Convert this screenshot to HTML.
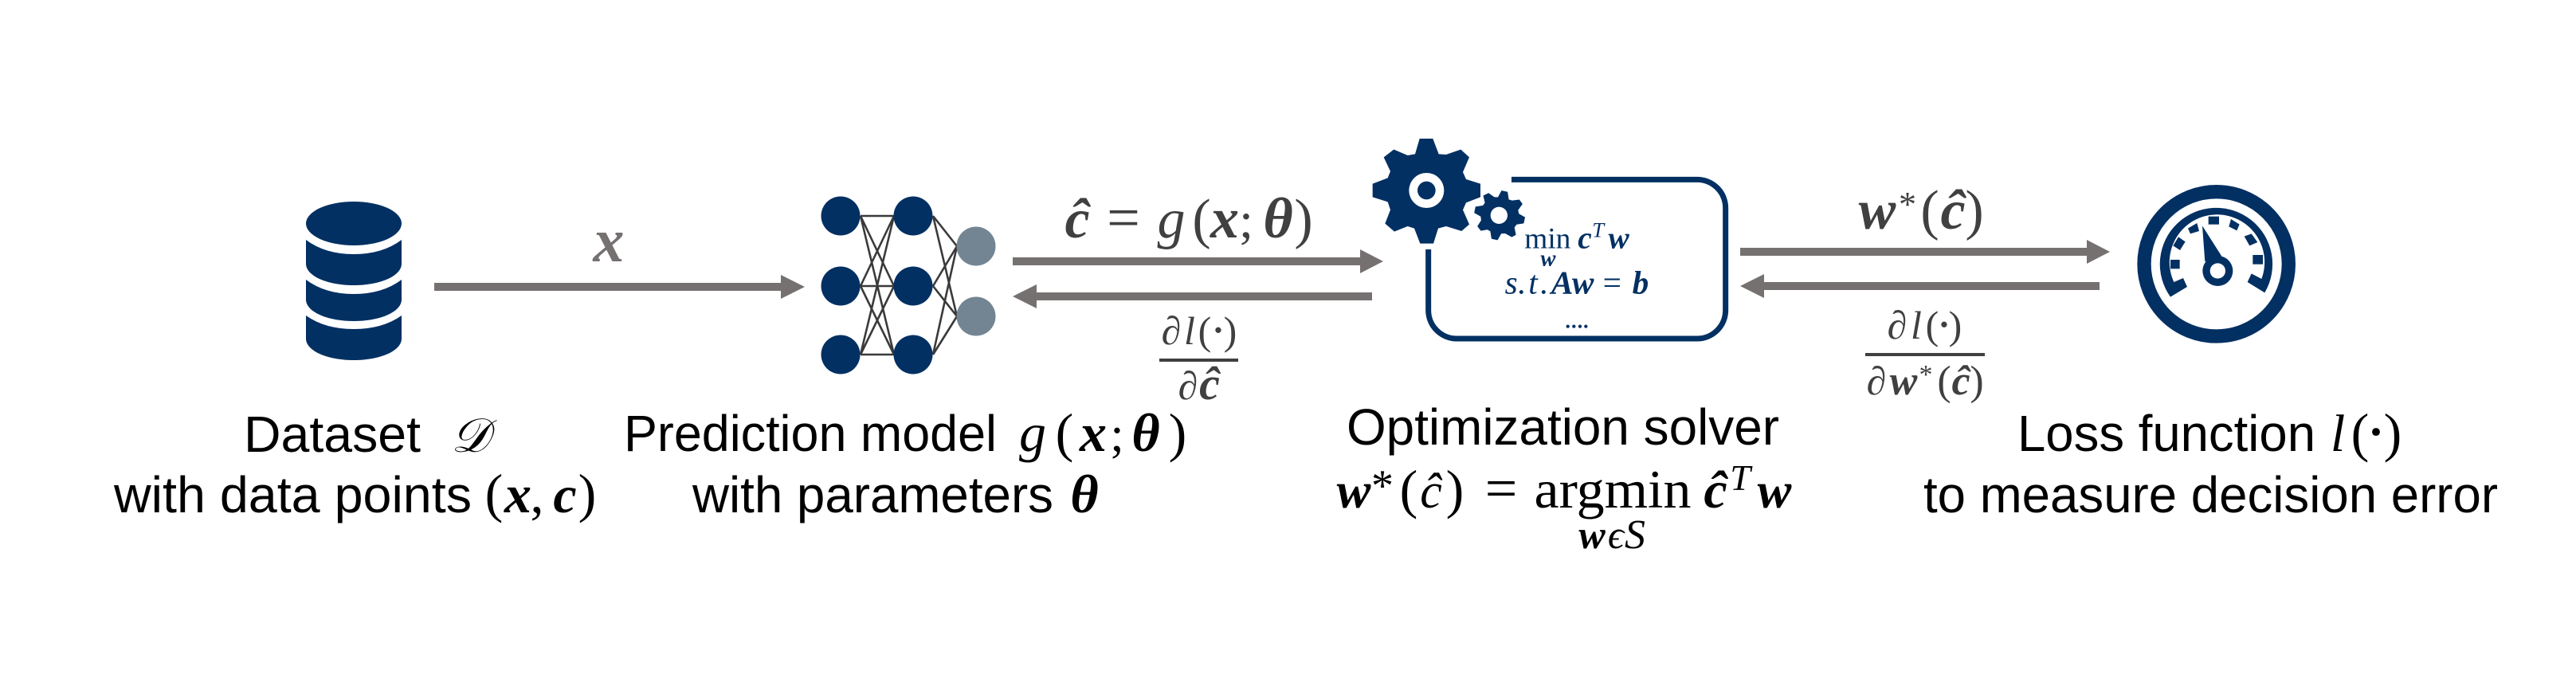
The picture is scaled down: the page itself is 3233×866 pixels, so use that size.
<!DOCTYPE html>
<html><head><meta charset="utf-8"><title>Decision-focused learning pipeline</title>
<style>
html,body{margin:0;padding:0;background:#fff}
svg{display:block}
text{font-family:"Liberation Serif","DejaVu Serif",serif;text-anchor:middle}
.s{font-family:"Liberation Sans",Arial,sans-serif;font-size:64px;fill:#000;text-anchor:start}
.bi{font-weight:bold;font-style:italic}
.i{font-style:italic}
.b{font-weight:bold}
.g{fill:#404040}
.k{fill:#000}
.n{fill:#033063}
</style></head><body>
<svg xmlns="http://www.w3.org/2000/svg" width="3233" height="866" viewBox="0 0 3233 866">
<rect width="3233" height="866" fill="#fff"/>

<!-- database -->
<g fill="#033063">
<ellipse cx="444" cy="280.5" rx="60" ry="27.5"/>
<path d="M384 301 Q408 319 444 319 Q480 319 504 301 V331 C504 346 478 358 444 358 C410 358 384 346 384 331Z"/>
<path d="M384 351 Q408 369 444 369 Q480 369 504 351 V376 C504 391 478 403 444 403 C410 403 384 391 384 376Z"/>
<path d="M384 396 Q408 413 444 413 Q480 413 504 396 V425 C504 440 478 452 444 452 C410 452 384 440 384 425Z"/>
</g>

<!-- arrows -->
<g fill="#767171">
<path d="M545 355H980V345L1010 360L980 375V365H545Z"/>
<path d="M1271 323H1707V313L1736 328L1707 343V333H1271Z"/>
<path d="M1722 367H1301V357L1271 372L1301 387V377H1722Z"/>
<path d="M2184 311H2619V301L2648 316L2619 331V321H2184Z"/>
<path d="M2635 354H2214V344L2184 359L2214 374V364H2635Z"/>
</g>

<!-- network -->
<g stroke="#3a3a3a" stroke-width="2.6" fill="none">
<path d="M1080 271L1122 271M1080 271L1122 359M1080 271L1122 445M1080 359L1122 271M1080 359L1122 359M1080 359L1122 445M1080 445L1122 271M1080 445L1122 359M1080 445L1122 445"/>
<path d="M1171 271L1201 309M1171 271L1201 397M1171 359L1201 309M1171 359L1201 397M1171 445L1201 309M1171 445L1201 397"/>
</g>
<g fill="#033063">
<circle cx="1055" cy="271" r="24.5"/><circle cx="1055" cy="359" r="24.5"/><circle cx="1055" cy="445" r="24.5"/>
<circle cx="1146" cy="271" r="24.5"/><circle cx="1146" cy="359" r="24.5"/><circle cx="1146" cy="445" r="24.5"/>
</g>
<g fill="#738592"><circle cx="1225" cy="309" r="24.5"/><circle cx="1225" cy="397" r="24.5"/></g>

<!-- gears and box, zoom coordinates -->
<g transform="translate(1700 160) scale(.33333)">
<polygon fill="#033063" points="245,42 295,42 317,100 345,102 400,83 432,112 408,168 420,195 474,212 474,262 420,283 408,310 432,365 403,390 345,372 315,380 297,437 247,437 225,380 200,372 150,392 115,362 135,310 125,280 68,262 68,212 125,190 135,165 110,112 148,83 200,105 228,100"/>
<circle cx="271" cy="237" r="66" fill="#fff"/><circle cx="271" cy="237" r="34" fill="#033063"/>
<g transform="translate(546 331) rotate(12) scale(.47) translate(-271 -240)">
<polygon fill="#033063" points="245,42 295,42 317,100 345,102 400,83 432,112 408,168 420,195 474,212 474,262 420,283 408,310 432,365 403,390 345,372 315,380 297,437 247,437 225,380 200,372 150,392 115,362 135,310 125,280 68,262 68,212 125,190 135,165 110,112 148,83 200,105 228,100"/>
</g>
<circle cx="544" cy="331" r="32" fill="#fff"/>
<path d="M591 196H1290A107 107 0 0 1 1397 303V688A107 107 0 0 1 1290 795H385A107 107 0 0 1 278 688V459" fill="none" stroke="#033063" stroke-width="21"/>
<text class="n" x="727" y="455" font-size="112">min</text>
<text class="n bi" x="867" y="455" font-size="118">c</text>
<text class="n i" x="917" y="412" font-size="80">T</text>
<text class="n bi" x="995" y="455" font-size="118">w</text>
<text class="n bi" x="729" y="520" font-size="86">w</text>
<text class="n i" x="590" y="625" font-size="124">s</text>
<text class="n" x="628" y="625" font-size="124">.</text>
<text class="n i" x="672" y="625" font-size="124">t</text>
<text class="n" x="712" y="625" font-size="124">.</text>
<text class="n bi" x="782" y="625" font-size="124">A</text>
<text class="n bi" x="860" y="625" font-size="124">w</text>
<text class="n" x="970" y="625" font-size="124">=</text>
<text class="n bi" x="1077" y="625" font-size="124">b</text>
<text class="n b" x="803" y="755" font-size="80">.</text>
<text class="n b" x="826" y="755" font-size="80">.</text>
<text class="n b" x="849" y="755" font-size="80">.</text>
<text class="n b" x="871" y="755" font-size="80">.</text>
</g>

<!-- gauge, zoom coordinates -->
<g transform="translate(2650 200) scale(.33333)" fill="#033063">
<circle cx="395" cy="394" r="272" fill="none" stroke="#033063" stroke-width="52"/>
<path d="M222 518A212 212 0 1 1 577 502L512 462L527 430L565 450A179 179 0 1 0 235 462L270 447L285 480Z"/>
<rect x="365" y="215" width="40" height="30"/>
<rect x="532" y="360" width="38" height="35"/>
<rect x="222" y="378" width="35" height="34"/>
<polygon points="288,260 322,240 330,270 297,280"/>
<polygon points="252,292 278,310 258,342 232,325"/>
<polygon points="450,225 482,245 472,268 442,253"/>
<polygon points="500,290 527,280 550,312 520,325"/>
<polygon points="342,250 415,365 352,385"/>
<circle cx="400" cy="420" r="57"/>
<circle cx="400" cy="420" r="29" fill="#fff"/>
</g>

<!-- connector labels -->
<text class="bi" fill="#767171" x="764" y="328" font-size="78">x</text>

<g class="g">
<text class="bi g" x="1352" y="298" font-size="70">ĉ</text>
<text class="g" x="1410" y="298" font-size="74">=</text>
<text class="i g" x="1470" y="298" font-size="70">g</text>
<text class="g" x="1508" y="298" font-size="70">(</text>
<text class="bi g" x="1537" y="298" font-size="72">x</text>
<text class="g" x="1564" y="298" font-size="64">;</text>
<text class="bi g" x="1604" y="298" font-size="72">θ</text>
<text class="g" x="1636" y="298" font-size="70">)</text>

<text class="i g" x="1470" y="432" font-size="50">∂</text>
<text class="i g" x="1493" y="432" font-size="50">l</text>
<text class="g" x="1512" y="432" font-size="50">(</text>
<text class="g" x="1529" y="435" font-size="62">·</text>
<text class="g" x="1544" y="432" font-size="50">)</text>
<rect x="1455" y="450" width="99" height="4" fill="#404040"/>
<text class="i g" x="1491" y="501" font-size="50">∂</text>
<text class="bi g" x="1518" y="501" font-size="58">ĉ</text>

<text class="bi g" x="2356" y="287" font-size="70">w</text>
<text class="g" x="2394" y="271" font-size="44">*</text>
<text class="g" x="2422" y="287" font-size="70">(</text>
<text class="bi g" x="2451" y="287" font-size="70">ĉ</text>
<text class="g" x="2478" y="287" font-size="70">)</text>

<text class="i g" x="2381" y="425" font-size="50">∂</text>
<text class="i g" x="2405" y="425" font-size="50">l</text>
<text class="g" x="2425" y="425" font-size="50">(</text>
<text class="g" x="2440" y="428" font-size="62">·</text>
<text class="g" x="2454" y="425" font-size="50">)</text>
<rect x="2341" y="443" width="150" height="4" fill="#404040"/>
<text class="i g" x="2355" y="495" font-size="50">∂</text>
<text class="bi g" x="2389" y="495" font-size="52">w</text>
<text class="g" x="2417" y="481" font-size="34">*</text>
<text class="g" x="2440" y="495" font-size="52">(</text>
<text class="bi g" x="2461" y="495" font-size="52">ĉ</text>
<text class="g" x="2481" y="495" font-size="52">)</text>
</g>

<!-- captions -->
<text class="s" x="306" y="567" textLength="222" lengthAdjust="spacingAndGlyphs">Dataset</text>
<text class="i k" x="590" y="567" font-size="60">𝒟</text>
<text class="s" x="143" y="643" textLength="449" lengthAdjust="spacingAndGlyphs">with data points</text>
<text class="k" x="620" y="642" font-size="68">(</text>
<text class="bi k" x="650" y="643" font-size="68">x</text>
<text class="k" x="674" y="643" font-size="68">,</text>
<text class="bi k" x="709" y="643" font-size="66">c</text>
<text class="k" x="737" y="642" font-size="68">)</text>

<text class="s" x="783" y="566" textLength="468" lengthAdjust="spacingAndGlyphs">Prediction model</text>
<text class="i k" x="1296" y="566" font-size="68">g</text>
<text class="k" x="1336" y="566" font-size="68">(</text>
<text class="bi k" x="1372" y="566" font-size="68">x</text>
<text class="k" x="1402" y="566" font-size="62">;</text>
<text class="bi k" x="1438" y="566" font-size="68">θ</text>
<text class="k" x="1478" y="566" font-size="68">)</text>
<text class="s" x="869" y="643" textLength="453" lengthAdjust="spacingAndGlyphs">with parameters</text>
<text class="bi k" x="1361" y="643" font-size="68">θ</text>

<text class="s" x="1690" y="558" textLength="543" lengthAdjust="spacingAndGlyphs">Optimization solver</text>
<text class="bi k" x="1699" y="637" font-size="64">w</text>
<text class="k" x="1735" y="628" font-size="56">*</text>
<text class="k" x="1768" y="637" font-size="68">(</text>
<text class="i k" x="1796" y="637" font-size="62">ĉ</text>
<text class="k" x="1826" y="637" font-size="68">)</text>
<text class="k" x="1884" y="637" font-size="72">=</text>
<text class="k" x="2024" y="637" font-size="68" textLength="197" lengthAdjust="spacingAndGlyphs">argmin</text>
<text class="bi k" x="2153" y="637" font-size="66">ĉ</text>
<text class="i k" x="2184" y="615" font-size="46">T</text>
<text class="bi k" x="2227" y="637" font-size="64">w</text>
<text class="bi k" x="1998" y="688" font-size="50">w</text>
<text class="i k" x="2028" y="688" font-size="50">ϵ</text>
<text class="i k" x="2052" y="688" font-size="52">S</text>

<text class="s" x="2532" y="566" textLength="374" lengthAdjust="spacingAndGlyphs">Loss function</text>
<text class="i k" x="2934" y="566" font-size="66">l</text>
<text class="k" x="2962" y="566" font-size="68">(</text>
<text class="k" x="2982" y="570" font-size="84">·</text>
<text class="k" x="3003" y="566" font-size="68">)</text>
<text class="s" x="2414" y="643" textLength="721" lengthAdjust="spacingAndGlyphs">to measure decision error</text>
</svg>
</body></html>
